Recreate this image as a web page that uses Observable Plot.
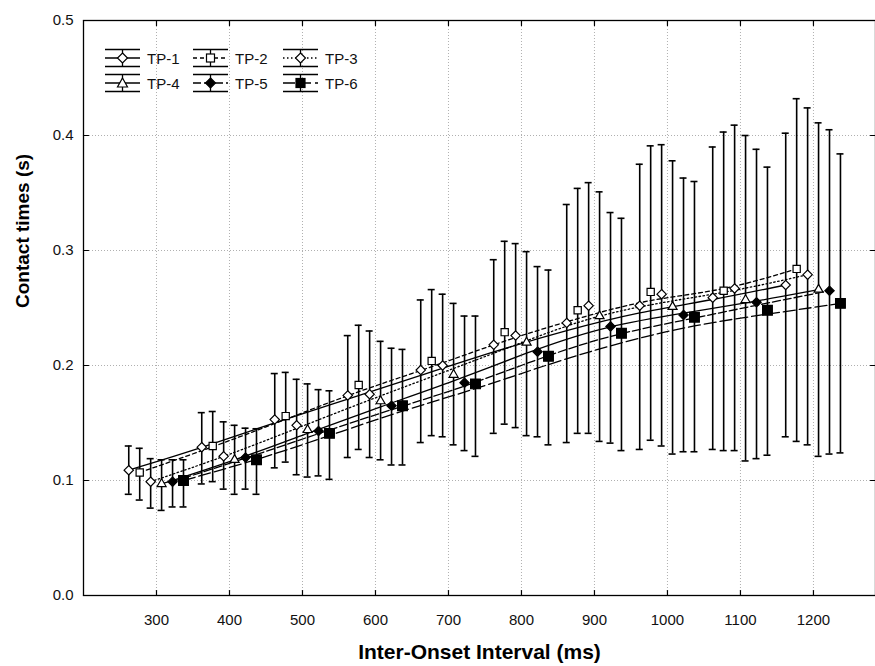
<!DOCTYPE html>
<html><head><meta charset="utf-8">
<script src="https://cdn.jsdelivr.net/npm/d3@7"></script>
<script src="https://cdn.jsdelivr.net/npm/@observablehq/plot@0.6"></script>
<style>
body{margin:0;background:#fff;}
#wrap{position:relative;width:875px;height:666px;overflow:hidden;}
#legend{position:absolute;left:0;top:0;font:15px Arial,"Liberation Sans",sans-serif;color:#111;}
.li{position:absolute;display:flex;align-items:center;height:20px;white-space:nowrap;}
.li span{margin-left:7px;}
</style></head><body><div id="wrap"><div id="legend"></div></div>
<script>
const series = ["TP-1","TP-2","TP-3","TP-4","TP-5","TP-6"];
const iois = [300,400,500,600,700,800,900,1000,1100,1200];

const tp1Mean = [0.109,0.129,0.153,0.174,0.196,0.218,0.237,0.252,0.259,0.270];
const tp1Hi   = [0.130,0.159,0.193,0.226,0.257,0.292,0.340,0.375,0.390,0.402];
const tp1Lo   = [0.088,0.097,0.111,0.120,0.133,0.141,0.133,0.127,0.127,0.138];

const tp2Mean = [0.107,0.130,0.156,0.183,0.204,0.229,0.248,0.264,0.265,0.284];
const tp2Hi   = [0.128,0.160,0.194,0.235,0.266,0.308,0.354,0.391,0.403,0.432];
const tp2Lo   = [0.083,0.099,0.116,0.127,0.139,0.149,0.141,0.135,0.126,0.134];

const tp3Mean = [0.099,0.121,0.148,0.175,0.200,0.226,0.252,0.262,0.267,0.279];
const tp3Hi   = [0.119,0.151,0.188,0.230,0.262,0.306,0.359,0.392,0.409,0.424];
const tp3Lo   = [0.076,0.0925,0.105,0.120,0.138,0.146,0.141,0.130,0.126,0.131];

const tp4Mean = [0.097,0.118,0.144,0.169,0.192,0.220,0.243,0.251,0.257,0.266];
const tp4Hi   = [0.118,0.148,0.184,0.221,0.254,0.299,0.351,0.378,0.400,0.411];
const tp4Lo   = [0.074,0.088,0.103,0.118,0.131,0.139,0.134,0.123,0.117,0.121];

const tp5Mean = [0.099,0.120,0.143,0.165,0.185,0.212,0.234,0.244,0.255,0.265];
const tp5Hi   = [0.118,0.1455,0.179,0.215,0.243,0.286,0.333,0.363,0.388,0.405];
const tp5Lo   = [0.077,0.0925,0.104,0.1135,0.126,0.138,0.1325,0.125,0.119,0.123];

const tp6Mean = [0.100,0.118,0.141,0.165,0.184,0.208,0.228,0.242,0.248,0.254];
const tp6Hi   = [0.118,0.145,0.178,0.214,0.243,0.283,0.328,0.360,0.3725,0.384];
const tp6Lo   = [0.077,0.088,0.101,0.1135,0.121,0.131,0.126,0.125,0.122,0.124];

const xTicks = [300,400,500,600,700,800,900,1000,1100,1200];
const yTicks = [0,0.1,0.2,0.3,0.4,0.5];

// styling per series
const means = [tp1Mean,tp2Mean,tp3Mean,tp4Mean,tp5Mean,tp6Mean];
const his = [tp1Hi,tp2Hi,tp3Hi,tp4Hi,tp5Hi,tp6Hi];
const los = [tp1Lo,tp2Lo,tp3Lo,tp4Lo,tp5Lo,tp6Lo];
const dodge = [-38,-23,-8,7,22,37];
const symbols = ["diamond2","square2","diamond2","triangle2","diamond2","square"];
const radii = [4.2,4.6,4.2,4.3,4.2,5.5];
const fills = ["white","white","white","white","black","black"];
const dashes = [null,"4,3","1.5,2.5",null,"8,3","12,4"];

const rows = [];
series.forEach((s,i)=>iois.forEach((v,j)=>rows.push({series:s,si:i,ioi:v,x:v+dodge[i],mean:means[i][j],hi:his[i][j],lo:los[i][j]})));

const tickShape = {draw(ctx, l){ ctx.moveTo(0,0); ctx.lineTo(0,-l); }};
const cap = 4.8;
const marks = [
  Plot.gridX(xTicks,{stroke:"#b0b0b0",strokeOpacity:1,strokeDasharray:"1,2"}),
  Plot.gridY(yTicks.slice(1,-1),{stroke:"#b0b0b0",strokeOpacity:1,strokeDasharray:"1,2"}),
];
series.forEach((s,i)=>{
  marks.push(Plot.line(rows.filter(d=>d.si===i),{x:"x",y:"mean",curve:"bundle",tension:0.7,stroke:"black",strokeWidth:1.3,strokeDasharray:dashes[i]}));
});
marks.push(
  Plot.ruleX(rows,{x:"x",y1:"lo",y2:"hi",stroke:"black",strokeWidth:1.6}),
  Plot.ruleY(rows,{y:"hi",x1:d=>d.x-cap,x2:d=>d.x+cap,stroke:"black",strokeWidth:1.6}),
  Plot.ruleY(rows,{y:"lo",x1:d=>d.x-cap,x2:d=>d.x+cap,stroke:"black",strokeWidth:1.6})
);
series.forEach((s,i)=>{
  marks.push(Plot.dot(rows.filter(d=>d.si===i),{x:"x",y:"mean",symbol:()=>symbols[i],
    r: radii[i], fill:fills[i], stroke:"black", strokeWidth:1.2}));
});
marks.push(
  Plot.frame({stroke:"black",strokeWidth:1.3}),
  // inward tick marks on all four sides
  Plot.vector(xTicks,{x:d=>d,frameAnchor:"bottom",length:5,rotate:0,anchor:"start",shape:tickShape,stroke:"black",strokeWidth:1.2}),
  Plot.vector(xTicks,{x:d=>d,frameAnchor:"top",length:5,rotate:180,anchor:"start",shape:tickShape,stroke:"black",strokeWidth:1.2}),
  Plot.vector(yTicks,{y:d=>d,frameAnchor:"left",length:5,rotate:90,anchor:"start",shape:tickShape,stroke:"black",strokeWidth:1.2}),
  Plot.vector(yTicks,{y:d=>d,frameAnchor:"right",length:5,rotate:-90,anchor:"start",shape:tickShape,stroke:"black",strokeWidth:1.2}),
  Plot.axisX(xTicks,{anchor:"bottom",tickSize:0,tickPadding:19,tickFormat:d3.format("d"),fontSize:15,fill:"#111",label:null}),
  Plot.axisY(yTicks,{anchor:"left",tickSize:0,tickPadding:10,tickFormat:d3.format(".1f"),fontSize:15,fill:"#111",label:null}),
  Plot.text(["Inter-Onset Interval (ms)"],{frameAnchor:"bottom",dy:57,fontSize:21,fontWeight:"bold",fill:"black",lineAnchor:"middle"}),
  Plot.text(["Contact times (s)"],{frameAnchor:"left",dx:-61,rotate:-90,fontSize:19,fontWeight:"bold",fill:"black",lineAnchor:"middle"})
);

const chart = Plot.plot({
  width:875, height:666,
  marginLeft:83, marginTop:20, marginRight:0, marginBottom:71,
  x:{domain:[200,1285], axis:null},
  y:{domain:[0,0.5], axis:null},
  style:{fontFamily:"Arial,'Liberation Sans',sans-serif",fontSize:"15px",background:"white",color:"#000"},
  marks
});
document.getElementById("wrap").prepend(chart);

// legend
const leg = document.getElementById("legend");
const pos = [[105,48],[193,48],[283,48],[105,73],[193,73],[283,73]];
function markerSvg(i){
  const c = 17.5, m = 9;
  const f = fills[i], st = 'stroke="black" stroke-width="1.2"';
  const sym = symbols[i];
  if (sym.startsWith("diamond")) return `<polygon points="${c},${m-5} ${c+5},${m} ${c},${m+5} ${c-5},${m}" fill="${f}" ${st}/>`;
  if (sym.startsWith("square")) { const h = f==="black"?4.5:4; return `<rect x="${c-h}" y="${m-h}" width="${2*h}" height="${2*h}" fill="${f}" ${st}/>`; }
  return `<polygon points="${c},${m-5} ${c+5},${m+4} ${c-5},${m+4}" fill="${f}" ${st}/>`;
}
series.forEach((s,i)=>{
  const d = dashes[i] ? `stroke-dasharray="${dashes[i]}"` : "";
  const svg = `<svg width="35" height="19" style="overflow:visible;flex:none">
    <line x1="0" x2="35" y1="0.5" y2="0.5" stroke="black" stroke-width="1.3"/>
    <line x1="0" x2="35" y1="17.5" y2="17.5" stroke="black" stroke-width="1.3"/>
    <line x1="17.5" x2="17.5" y1="0.5" y2="17.5" stroke="black" stroke-width="1.3"/>
    <line x1="0" x2="35" y1="9" y2="9" stroke="black" stroke-width="1.3" ${d}/>
    ${markerSvg(i)}
  </svg>`;
  const el = document.createElement("div");
  el.className = "li";
  el.style.left = pos[i][0]+"px";
  el.style.top = pos[i][1]+"px";
  el.innerHTML = svg + `<span>${s}</span>`;
  leg.appendChild(el);
});
</script>
</body></html>
